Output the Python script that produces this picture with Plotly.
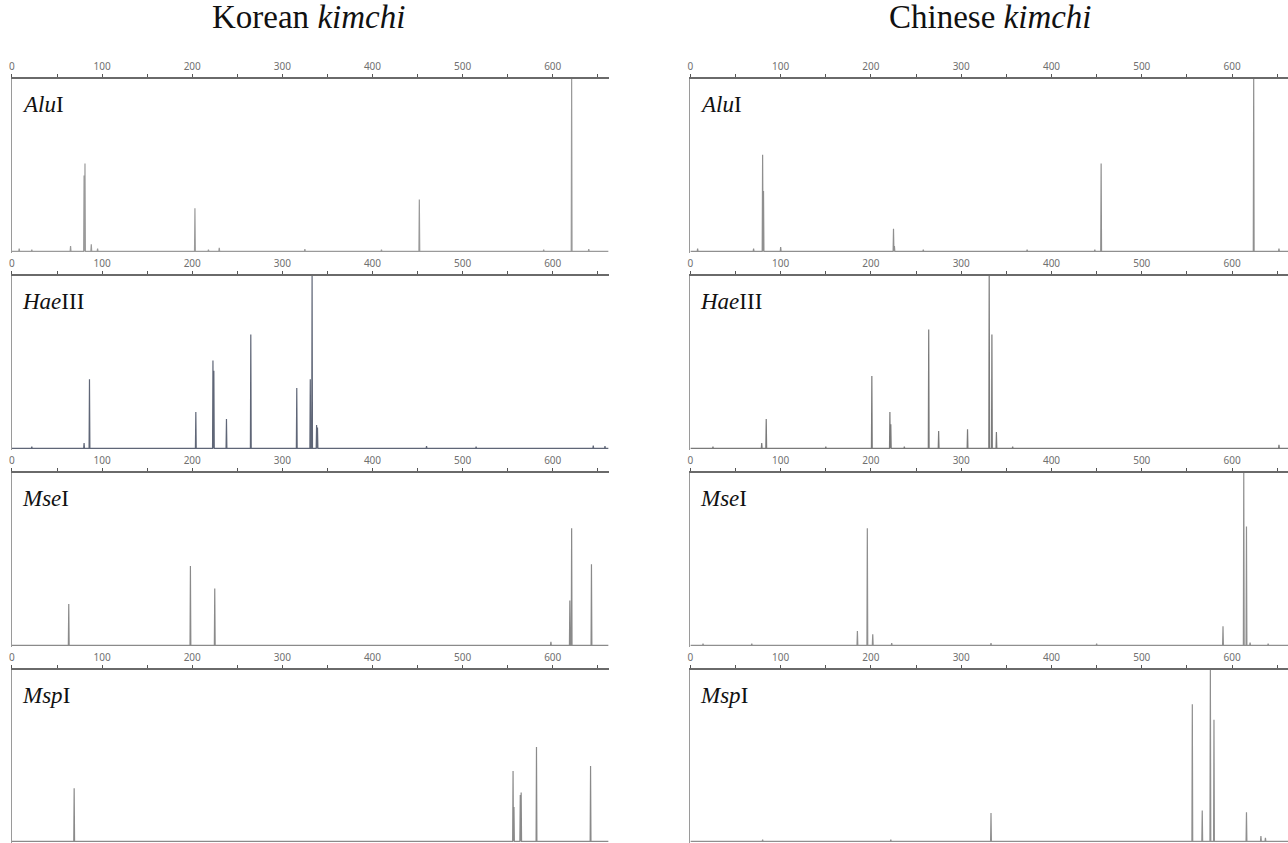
import plotly.graph_objects as go

# ---------------- data (fragment size in bp, relative peak height) ----------------
X_MAX = 662
TICK_VALS = [0, 50, 100, 150, 200, 250, 300, 350, 400, 450, 500, 550, 600, 650]
TICK_TEXT = ["0", "", "100", "", "200", "", "300", "", "400", "", "500", "", "600", ""]

ENZYME_NAME = ["Alu", "Hae", "Mse", "Msp"]
ENZYME_SUFFIX = ["I", "III", "I", "I"]
GROUPS = ["Korean", "Chinese"]

# Korean kimchi
kor_alu_bp = [8, 22, 65, 80, 81, 88, 95, 203, 218, 230, 325, 410, 452, 590, 621, 640]
kor_alu_h = [0.015, 0.01, 0.03, 0.44, 0.51, 0.04, 0.015, 0.25, 0.01, 0.02, 0.012, 0.01, 0.30, 0.01, 1.0, 0.012]

kor_hae_bp = [22, 80, 86, 204, 223, 224, 238, 265, 316, 331, 333, 338, 339, 460, 515, 645, 658]
kor_hae_h = [0.01, 0.03, 0.40, 0.21, 0.51, 0.45, 0.17, 0.66, 0.35, 0.40, 1.0, 0.135, 0.12, 0.012, 0.01, 0.015, 0.012]

kor_mse_bp = [63, 198, 225, 598, 619, 621, 643]
kor_mse_h = [0.24, 0.46, 0.33, 0.02, 0.26, 0.68, 0.47]

kor_msp_bp = [69, 556, 557, 564, 565, 582, 642]
kor_msp_h = [0.31, 0.41, 0.20, 0.27, 0.285, 0.55, 0.44]

# Chinese kimchi
chi_alu_bp = [8, 70, 80, 81, 100, 225, 226, 258, 373, 448, 455, 624, 652]
chi_alu_h = [0.015, 0.015, 0.56, 0.35, 0.025, 0.13, 0.03, 0.01, 0.01, 0.01, 0.51, 1.0, 0.015]

chi_hae_bp = [25, 79, 84, 150, 201, 221, 222, 237, 264, 275, 307, 331, 334, 339, 357, 652]
chi_hae_h = [0.01, 0.03, 0.17, 0.01, 0.42, 0.21, 0.14, 0.01, 0.69, 0.10, 0.11, 1.0, 0.66, 0.095, 0.01, 0.02]

chi_mse_bp = [14, 68, 185, 196, 202, 223, 333, 450, 590, 613, 616, 620, 640]
chi_mse_h = [0.01, 0.01, 0.083, 0.68, 0.064, 0.012, 0.012, 0.01, 0.11, 1.0, 0.69, 0.015, 0.01]

chi_msp_bp = [80, 222, 333, 556, 567, 576, 580, 616, 632, 637]
chi_msp_h = [0.01, 0.01, 0.165, 0.80, 0.18, 1.0, 0.71, 0.17, 0.03, 0.02]

PANELS = {
    ("Korean", 0): (kor_alu_bp, kor_alu_h),
    ("Korean", 1): (kor_hae_bp, kor_hae_h),
    ("Korean", 2): (kor_mse_bp, kor_mse_h),
    ("Korean", 3): (kor_msp_bp, kor_msp_h),
    ("Chinese", 0): (chi_alu_bp, chi_alu_h),
    ("Chinese", 1): (chi_hae_bp, chi_hae_h),
    ("Chinese", 2): (chi_mse_bp, chi_mse_h),
    ("Chinese", 3): (chi_msp_bp, chi_msp_h),
}

# ---------------- layout / style ----------------
W, H = 1288, 843
PEAK_HALF_WIDTH = 0.45
X_DOMAINS = {"Korean": (9 / W, 607 / W), "Chinese": (689 / W, 1.0)}
TITLE_CENTERS = {"Korean": 306 / W, "Chinese": 990 / W}
PANEL_TOPS = [79, 276, 473, 670]
PANEL_HEIGHT = 174
TRACE_COLORS = {
    ("Korean", 0): "#9a9a9a", ("Korean", 1): "#5f6677", ("Korean", 2): "#8a8a8a", ("Korean", 3): "#8a8a8a",
    ("Chinese", 0): "#8f8f8f", ("Chinese", 1): "#7a7a7a", ("Chinese", 2): "#8f8f8f", ("Chinese", 3): "#8f8f8f",
}


def spikes(bp, h):
    order = sorted(range(len(bp)), key=lambda i: bp[i])
    xs, ys = [0], [0]
    for i in order:
        p = bp[i]
        xs += [p - PEAK_HALF_WIDTH, p, p + PEAK_HALF_WIDTH]
        ys += [0, h[i], 0]
    xs.append(X_MAX)
    ys.append(0)
    return xs, ys


fig = go.Figure()
layout = {}
annotations = []
n = 0
for g in GROUPS:
    for k in range(4):
        n += 1
        xa = "x" if n == 1 else f"x{n}"
        ya = "y" if n == 1 else f"y{n}"
        bp, h = PANELS[(g, k)]
        xs, ys = spikes(bp, h)
        fig.add_trace(go.Scatter(x=xs, y=ys, mode="lines", xaxis=xa, yaxis=ya,
                                 line=dict(color=TRACE_COLORS[(g, k)], width=1.2),
                                 hoverinfo="skip", showlegend=False))
        top = PANEL_TOPS[k]
        bot = top + PANEL_HEIGHT
        y0 = max(0.0, 1 - bot / H)
        y1 = 1 - top / H
        layout["xaxis" if n == 1 else f"xaxis{n}"] = dict(
            domain=list(X_DOMAINS[g]), anchor=ya, side="top", range=[0, X_MAX],
            tickvals=TICK_VALS, ticktext=TICK_TEXT, ticks="outside", ticklen=3,
            tickcolor="#555", tickwidth=1, showline=True, linecolor="#6a6a6a", linewidth=1.6,
            showgrid=False, zeroline=False,
            tickfont=dict(family="Noto Sans, sans-serif", size=10, color="#707070"),
        )
        layout["yaxis" if n == 1 else f"yaxis{n}"] = dict(
            domain=[y0, y1], anchor=xa, range=[-0.01, 1.0], showline=True,
            linecolor="#9a9a9a", linewidth=1.4, showticklabels=False, ticks="",
            showgrid=False, zeroline=False,
        )
        annotations.append(dict(
            x=X_DOMAINS[g][0] + 8 / W, y=1 - (top + 25) / H, xref="paper", yref="paper",
            xanchor="left", yanchor="middle", showarrow=False,
            text=f"<i>{ENZYME_NAME[k]}</i>{ENZYME_SUFFIX[k]}",
            font=dict(family="Liberation Serif, Times New Roman, serif", size=23, color="#111"),
        ))

for g in GROUPS:
    annotations.append(dict(
        x=TITLE_CENTERS[g], y=1 - 17 / H, xref="paper", yref="paper", xanchor="center", yanchor="middle",
        showarrow=False, text=f"{g} <i>kimchi</i>",
        font=dict(family="Liberation Serif, Times New Roman, serif", size=33, color="#111"),
    ))

fig.update_layout(**layout)
fig.update_layout(width=W, height=H, margin=dict(l=0, r=0, t=0, b=0),
                  paper_bgcolor="white", plot_bgcolor="white",
                  annotations=annotations, showlegend=False)

fig.write_html("out.html")
